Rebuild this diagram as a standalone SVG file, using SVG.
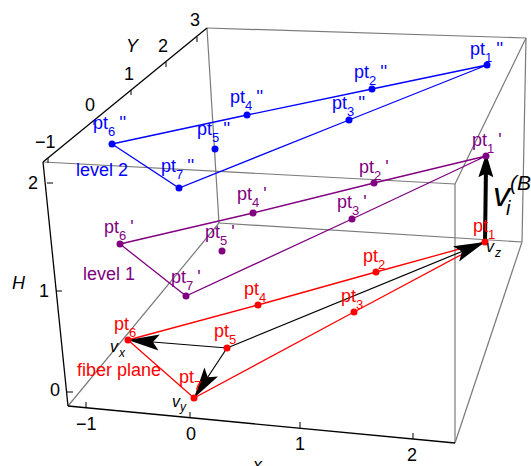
<svg xmlns="http://www.w3.org/2000/svg" width="531" height="466" viewBox="0 0 531 466">
<style>
text{font-family:"Liberation Sans",Arial,sans-serif;font-size:18px}
.it{font-style:italic}
.box{stroke:#7a7a7a;stroke-width:1.2;fill:none}
.ax{stroke:#000;stroke-width:1.3;fill:none}
.tk{stroke:#000;stroke-width:1;fill:none}
.b{fill:#0000ff}.p{fill:#800080}.r{fill:#ff0000}
.bl{stroke:#0000ff;stroke-width:1.3;fill:none}
.pl{stroke:#800080;stroke-width:1.3;fill:none}
.rl{stroke:#ff0000;stroke-width:1.3;fill:none}
.ar{stroke:#000;stroke-width:1.2;fill:none;marker-end:url(#ah)}
.sub{font-size:13px}
</style>
<defs>
<marker id="ah" markerUnits="userSpaceOnUse" markerWidth="40" markerHeight="40" viewBox="-30 -10 32 20" refX="0" refY="0" orient="auto" overflow="visible">
<path d="M0,0 L-25,-6.5 L-20,0 L-25,6.5 Z" fill="#000"/>
</marker>
<marker id="ahb" markerUnits="userSpaceOnUse" markerWidth="40" markerHeight="40" viewBox="-30 -10 32 20" refX="-10" refY="0" orient="auto" overflow="visible">
<path d="M0,0 L-19,-6 L-16,0 L-19,6 Z" fill="#000"/>
</marker>
</defs>

<g id="frame">
<line class="box" x1="207" y1="28" x2="526" y2="38"/>
<line class="box" x1="526" y1="38" x2="455" y2="184"/>
<line class="box" x1="43" y1="162" x2="455" y2="184"/>
<line class="box" x1="455" y1="184" x2="455" y2="443"/>
<line class="box" x1="526" y1="38" x2="522" y2="242"/>
<line class="box" x1="522" y1="242" x2="455" y2="443"/>
<line class="box" x1="207" y1="28" x2="219" y2="223"/>
<line class="box" x1="219" y1="223" x2="522" y2="242"/>
<line class="box" x1="219" y1="223" x2="68" y2="406"/>
<line class="ax" x1="43" y1="162" x2="207" y2="28"/>
<line class="ax" x1="43" y1="162" x2="68" y2="406"/>
<line class="ax" x1="68" y1="406" x2="455" y2="443"/>
<path class="tk" d="M48,158 v5 M94,120 v5 M131,90 v5 M166,62 v5 M197,37 v5"/>
<path class="tk" d="M47,183 h6 M56,291 h6 M67,392 h6"/>
<path class="tk" d="M86,408 v-6 M190,418 v-6 M300,428 v-6 M413,439 v-6"/>
<text x="35" y="148">−1</text>
<text x="85" y="111">0</text>
<text x="124" y="80">1</text>
<text x="158" y="52">2</text>
<text x="190" y="26">3</text>
<text class="it" x="126" y="52">Y</text>
<text x="28" y="189">2</text>
<text x="39" y="297">1</text>
<text x="50" y="396">0</text>
<text class="it" x="12" y="289">H</text>
<text x="76" y="430">−1</text>
<text x="186" y="440">0</text>
<text x="295" y="450">1</text>
<text x="407" y="461">2</text>
<text class="it" x="253" y="471">x</text>
</g>

<g id="connectors">
<polyline class="bl" points="112,144 247,115 372,89 487,65 349,120 179,188 112,144"/>
<polyline class="pl" points="120,244 253,213 374,183 486,156 352,219 186,296 120,244"/>
<polyline class="rl" points="128,340 258,305 376,272 485,242 354,312 194,398 128,340"/>
<line class="ar" x1="227" y1="348" x2="128" y2="340"/>
<line class="ar" x1="227" y1="348" x2="194" y2="398"/>
<line class="ar" x1="227" y1="348" x2="485" y2="242"/>
<line x1="485" y1="242" x2="486" y2="166" stroke="#000" stroke-width="4" marker-end="url(#ahb)"/>
</g>

<g id="level2" class="b">
<text x="76" y="176">level 2</text>
<g id="pt1pp"><circle cx="487" cy="65" r="3.5"/><text x="470" y="55">pt<tspan class="sub" dy="7">1</tspan><tspan dx="4" dy="-7">''</tspan></text></g>
<g id="pt2pp"><circle cx="372" cy="89" r="3.5"/><text x="354" y="78">pt<tspan class="sub" dy="7">2</tspan><tspan dx="4" dy="-7">''</tspan></text></g>
<g id="pt3pp"><circle cx="349" cy="120" r="3.5"/><text x="332" y="109">pt<tspan class="sub" dy="7">3</tspan><tspan dx="4" dy="-7">''</tspan></text></g>
<g id="pt4pp"><circle cx="247" cy="115" r="3.5"/><text x="230" y="103">pt<tspan class="sub" dy="7">4</tspan><tspan dx="4" dy="-7">''</tspan></text></g>
<g id="pt5pp"><circle cx="215" cy="149" r="3.5"/><text x="197" y="135">pt<tspan class="sub" dy="7">5</tspan><tspan dx="4" dy="-7">''</tspan></text></g>
<g id="pt6pp"><circle cx="112" cy="144" r="3.5"/><text x="93" y="129">pt<tspan class="sub" dy="7">6</tspan><tspan dx="4" dy="-7">''</tspan></text></g>
<g id="pt7pp"><circle cx="179" cy="188" r="3.5"/><text x="161" y="172">pt<tspan class="sub" dy="7">7</tspan><tspan dx="4" dy="-7">''</tspan></text></g>
</g>

<g id="level1" class="p">
<text x="83" y="280">level 1</text>
<g id="pt1p"><circle cx="486" cy="156" r="3.5"/><text x="472" y="146">pt<tspan class="sub" dy="7">1</tspan><tspan dx="4" dy="-7">'</tspan></text></g>
<g id="pt2p"><circle cx="374" cy="183" r="3.5"/><text x="359" y="173">pt<tspan class="sub" dy="7">2</tspan><tspan dx="4" dy="-7">'</tspan></text></g>
<g id="pt3p"><circle cx="352" cy="219" r="3.5"/><text x="337" y="208">pt<tspan class="sub" dy="7">3</tspan><tspan dx="4" dy="-7">'</tspan></text></g>
<g id="pt4p"><circle cx="253" cy="213" r="3.5"/><text x="237" y="200">pt<tspan class="sub" dy="7">4</tspan><tspan dx="4" dy="-7">'</tspan></text></g>
<g id="pt5p"><circle cx="222" cy="251" r="3.5"/><text x="205" y="238">pt<tspan class="sub" dy="7">5</tspan><tspan dx="4" dy="-7">'</tspan></text></g>
<g id="pt6p"><circle cx="120" cy="244" r="3.5"/><text x="104" y="233">pt<tspan class="sub" dy="7">6</tspan><tspan dx="4" dy="-7">'</tspan></text></g>
<g id="pt7p"><circle cx="186" cy="296" r="3.5"/><text x="171" y="283">pt<tspan class="sub" dy="7">7</tspan><tspan dx="4" dy="-7">'</tspan></text></g>
</g>

<g id="fiber" class="r">
<text x="77" y="376">fiber plane</text>
<g id="pt1"><circle cx="485" cy="242" r="3.5"/><text x="473" y="232">pt<tspan class="sub" dy="7">1</tspan></text></g>
<g id="pt2"><circle cx="376" cy="272" r="3.5"/><text x="363" y="262">pt<tspan class="sub" dy="7">2</tspan></text></g>
<g id="pt3"><circle cx="354" cy="312" r="3.5"/><text x="341" y="302">pt<tspan class="sub" dy="7">3</tspan></text></g>
<g id="pt4"><circle cx="258" cy="305" r="3.5"/><text x="244" y="295">pt<tspan class="sub" dy="7">4</tspan></text></g>
<g id="pt5"><circle cx="227" cy="348" r="3.5"/><text x="214" y="337">pt<tspan class="sub" dy="7">5</tspan></text></g>
<g id="pt6"><circle cx="128" cy="340" r="3.5"/><text x="114" y="330">pt<tspan class="sub" dy="7">6</tspan></text></g>
<g id="pt7"><circle cx="194" cy="398" r="3.5"/><text x="179" y="383">pt<tspan class="sub" dy="7">7</tspan></text></g>
</g>

<g id="vlabels" class="it">
<text x="110" y="352" style="font-size:16px">v<tspan x="119" y="357" style="font-size:12px">x</tspan></text>
<text x="172" y="407" style="font-size:16px">v<tspan x="180" y="411" style="font-size:12px">y</tspan></text>
<text x="486" y="252" style="font-size:16px">v<tspan x="495" y="257" style="font-size:12px">z</tspan></text>
<text x="493" y="206" style="font-size:34px">v<tspan x="506" y="215" style="font-size:20px">i</tspan><tspan x="510" y="190" style="font-size:21px">(B</tspan></text>
</g>
</svg>
